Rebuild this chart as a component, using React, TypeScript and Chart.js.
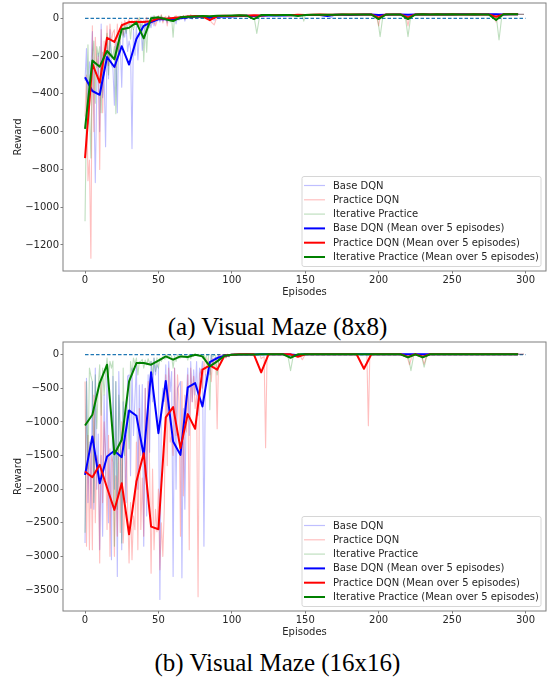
import React, { useEffect, useRef } from 'react';
import { Chart, registerables } from 'chart.js';

Chart.register(...registerables);

const FONT = '"DejaVu Sans", "Liberation Sans", sans-serif';
const TEXT = '#262626';
const FONT_SIZE = 10;

const seriesLabels = [
  'Base DQN',
  'Practice DQN',
  'Iterative Practice',
  'Base DQN (Mean over 5 episodes)',
  'Practice DQN (Mean over 5 episodes)',
  'Iterative Practice (Mean over 5 episodes)',
];
const MEAN_WINDOW = 5;
const optimumLine = [[0, 0], [300, 0]];

const xTicks = [0, 50, 100, 150, 200, 250, 300];
const m8YTicks = [-1200, -1000, -800, -600, -400, -200, 0];
const m16YTicks = [-3500, -3000, -2500, -2000, -1500, -1000, -500, 0];

// ---------- Visual Maze (8x8) ----------
const m8BaseRaw = [
  -330, -160, -560, -230, -280, -70, -420, -870, -380, -185,
  -600, -30, -420, -295, -680, -130, -320, -60, -250, -265,
  -460, -120, -500, -80, -130, -365, -60, -100, -40, -175,
  -120, -160, -690, -60, -195, -40, -220, -90, -30, -170,
  -90, -10, -60, -20, -20, -50, 10, -40, -5, -15,
  5, -20, 10, -15, -5, 0, -25, 10, 5, -15,
  -10, 5, -30, 5, -10, 5, -5, 10, -15, 5,
  10, 0, 15, -5, 5,
];
const m8BaseRawLate = [
  [75, 15], [78, 10], [80, 8], [83, 14], [85, 5], [88, -10], [90, 10], [93, 14], [95, 12],
  [100, 10], [105, 15], [110, 12], [115, 16], [120, 14], [125, 18], [130, 16], [135, 18],
  [140, 15], [145, 18], [150, 18], [155, 17], [160, 20], [165, 12], [168, 5], [170, 18],
  [175, 19], [180, 20], [185, 19], [190, 19], [195, 20], [200, 17], [205, 20], [210, 20],
  [215, 19], [220, 19], [225, 20], [230, 21], [240, 20], [250, 20], [260, 21], [270, 20],
  [280, 21], [290, 21], [299, 21],
];
const m8PracticeRaw = [
  -520, -300, -860, -750, -1270, -40, -600, -100, -260, -200,
  -800, -60, -500, -120, -220, -40, -250, -30, -120, -75,
  -60, -260, -30, -180, -95, -20, -90, -10, -40, -25,
  -5, -45, -10, -30, -10, -30, 0, -40, -10, -20,
  -10, -35, 5, -40, -20, 0, -30, 10, -40, -15,
  15, -10, 20, -25, 0, 10, -40, 15, 0, 0,
  5, -10, 15, 0, 0, 10, 0, 15, -5, 5,
  15, 5, 20, 0, 10,
];
const m8PracticeRawLate = [
  [75, 12], [78, 15], [80, 15], [84, 10], [86, -20], [88, -35], [90, 12], [95, 14],
  [100, 12], [105, 15], [110, 14], [115, 16], [120, 15], [125, 18], [130, 17], [135, 18],
  [140, 16], [145, 19], [150, 18], [160, 20], [170, 19], [180, 20], [190, 20], [197, 20],
  [199, -5], [200, -40], [201, 5], [203, 20], [210, 20], [217, 20], [219, -5], [220, -40],
  [221, 5], [223, 20], [230, 21], [240, 20], [250, 21], [260, 20], [270, 21], [277, 20],
  [279, 0], [280, -20], [281, 10], [283, 20], [290, 21], [299, 21],
];
const m8IterativeRaw = [
  -1075, -480, -140, -490, -740, -200, -120, -450, -150, -200,
  -150, -500, -180, -300, -150, -80, -300, -100, -185, -200,
  -150, -505, -130, -200, -100, -40, -100, -30, -80, -40,
  -20, -110, -30, -60, -30, -10, -40, 5, -50, -20,
  -230, -40, -180, -30, -50, 10, -20, 15, -10, 5,
  10, 0, 15, -5, 5, 0, -15, 10, -20, 0,
  -100, 10, 5, 0, 10, 10, 0, 15, -5, 5,
  15, 5, 10, 0, 10,
];
const m8IterativeRawLate = [
  [75, 12], [80, 14], [85, 10], [90, 15], [95, 14], [100, 15], [105, 16], [110, 15],
  [115, 15], [117, -80], [119, 15], [125, 17], [130, 16], [135, 18], [140, 17], [145, 18],
  [148, 15], [149, -15], [150, 15], [160, 19], [170, 19], [180, 20], [190, 20], [199, 18],
  [201, -97], [203, 18], [210, 20], [218, 18], [220, -97], [222, 18], [230, 20], [240, 20],
  [250, 21], [260, 20], [270, 21], [280, 18], [282, -115], [284, 18], [290, 21], [299, 21],
];
const m8BaseMean = [
  -312, -385, -405, -205, -258, -148, -245, -110, -40, -20,
  -5, -5, -8, 0, 5, 10, 8, 3, 8, 10,
  10, 12, 14, 12, 14, 15, 16, 15, 16, 17,
  18, 17, 18, 12, 19, 19, 18, 19, 20, 20,
  18, 19, 20, 20, 19, 20, 21, 20, 20, 21,
  20, 21, 21, 20, 21, 21, 21, 20, 21, 21,
];
const m8PracticeMean = [
  -740, -240, -340, -103, -125, -37, -20, -20, -20, -15,
  0, -3, 2, 5, 10, 12, 10, -10, 12, 14,
  12, 15, 14, 16, 15, 18, 17, 18, 16, 19,
  18, 19, 20, 19, 19, 20, 20, 20, 20, 20,
  3, 20, 20, 20, 4, 20, 21, 20, 21, 20,
  21, 20, 20, 21, 20, 20, 8, 21, 21, 21,
];
const m8IterativeMean = [
  -585, -224, -256, -173, -217, -58, -50, -23, -106, 0,
  5, -5, -15, 5, 8, 10, 12, 11, 14, 14,
  15, 16, 15, -4, 17, 17, 16, 18, 17, 12,
  18, 19, 19, 19, 19, 20, 20, 20, 20, 20,
  -4, 20, 20, 20, -4, 20, 21, 20, 21, 20,
  21, 20, 20, 21, 20, 20, -9, 21, 21, 21,
];

// ---------- Visual Maze (16x16) ----------
const m16BaseRaw = [
  -2800, -350, -2200, -1300, -2285, -400, -2300, -200, -2000, -1180,
  -2900, -1500, -2700, -600, -1855, -300, -2500, -1400, -3050, -320,
  -2000, -400, -3300, -250, -1200, -2900, -700, -1500, -2200, -320,
  -300, -1800, -200, -1200, -645, -150, -2000, -450, -1500, -445,
  -2850, -500, -2400, -300, -1450, -100, -700, -50, -300, -150,
  -200, -3640, -800, -500, -695, -150, -900, -100, -550, -250,
  -3300, -200, -2000, -500, -455, -400, -3320, -800, -2300, -630,
  -200, -1200, -100, -700, -225, -600, -100, -900, -200, -310,
  -100, -2850, -300, -400, -200, -300, 0, -150, -50, -45,
  -100, 0, -80, -50, -20, 0, -40, 5, -30, -10,
  5, -10, 5, 0, 0,
];
const m16BaseRawLate = [
  [105, 5], [110, 2], [115, 6], [120, 4], [125, 6], [130, 5], [135, 3], [140, 2], [143, -20],
  [145, -15], [147, 5], [150, 6], [160, 5], [170, 6], [180, 6], [190, 6], [200, 6], [210, 6],
  [220, 6], [230, 7], [240, 7], [250, 6], [260, 7], [270, 7], [280, 7], [290, 7], [299, 7],
];
const m16PracticeRaw = [
  -400, -2850, -1200, -2900, -1340, -2900, -600, -2500, -1500, -1610,
  -3100, -400, -2200, -1000, -1490, -2600, -1200, -3000, -1500, -1600,
  -3000, -1800, -2700, -1400, -2645, -1000, -2800, -2300, -1200, -2260,
  -3100, -2200, -3050, -2400, -2605, -1300, -2900, -800, -2600, -1835,
  -2700, -500, -2000, -400, -1725, -3250, -1700, -2900, -2300, -2635,
  -2000, -3200, -2500, -3000, -2285, -300, -1650, -200, -1300, -1215,
  -1500, -200, -1200, -300, -700, -2700, -400, -2100, -600, -1150,
  -300, -2900, -200, -700, -320, -800, -600, -3600, -300, -210,
  -500, -100, -300, -50, -165, -100, -400, -50, -200, -45,
  -1100, 0, -10, -5, 0, 0, -50, 5, -30, 0,
  5, -5, 5, -5, 0,
];
const m16PracticeRawLate = [
  [105, 5], [110, 5], [115, 5], [119, 5], [120, -60], [121, -40], [122, -30], [123, -1385],
  [124, 5], [126, 5], [130, 5], [140, 5], [146, 0], [148, -75], [150, 5], [160, 6], [170, 6],
  [180, 6], [190, 5], [191, 5], [192, -10], [193, -1057], [194, 10], [196, 6], [210, 6],
  [219, 6], [221, -150], [223, 6], [229, 6], [231, -140], [233, 6], [240, 6], [250, 7],
  [260, 7], [270, 7], [280, 7], [290, 7], [299, 8],
];
const m16IterativeRaw = [
  -2650, -400, -1700, -200, -315, -400, -2200, -300, -1100, -470,
  -150, -900, -200, -600, -260, -50, -300, -100, -200, -95,
  -2850, -400, -2300, -600, -1250, -2800, -200, -1500, -1000, -830,
  -1400, -100, -300, -50, -135, -50, -300, -100, -100, -70,
  -200, -80, -150, -60, -130, -100, -300, -50, -250, -45,
  -200, -50, -100, -30, -65, -60, 0, -40, 0, -25,
  -200, -20, -100, 0, -50, -50, 0, -30, -20, -25,
  -80, 0, -60, -10, -25, 10, -10, 5, -5, 0,
  -50, 0, -60, -10, -5, -820, 0, -30, -10, -10,
  -300, -100, -50, -30, -15, 0, -40, 5, -30, -10,
  5, -5, 5, -5, 0,
];
const m16IterativeRawLate = [
  [105, 3], [110, 4], [115, 4], [120, 5], [130, 5], [138, 5], [140, -238], [142, 5],
  [150, 5], [160, 6], [170, 6], [180, 6], [190, 6], [200, 6], [210, 6], [220, 6],
  [222, -238], [224, 6], [229, 6], [231, -184], [233, 6], [240, 6], [250, 7], [260, 7],
  [270, 7], [280, 7], [290, 7], [299, 7],
];
const m16BaseMean = [
  -1787, -1216, -1911, -1514, -1430, -1524, -829, -909, -1500, -260,
  -1167, -390, -1291, -1490, -485, -422, -770, -109, -50, -15,
  0, 3, 5, 4, 6, 5, 6, 5, 3, -8,
  5, 6, 5, 6, 6, 5, 6, 6, 6, 6,
  6, 6, 6, 7, 6, 7, 6, 7, 7, 6,
  7, 7, 7, 7, 7, 7, 7, 7, 7, 7,
];
const m16PracticeMean = [
  -1738, -1822, -1638, -1980, -2309, -1912, -2671, -1887, -1465, -2557,
  -2597, -933, -780, -1390, -884, -1102, -223, -159, -223, -15,
  0, 5, 5, 5, -263, 5, 5, 5, 5, -30,
  5, 6, 6, 6, 6, 6, 6, 6, -209, 6,
  6, 6, 6, 6, -35, 6, -30, 6, 6, 6,
  6, 7, 7, 7, 7, 7, 7, 7, 7, 7,
];
const m16IterativeMean = [
  -1053, -894, -422, -149, -1480, -1266, -397, -124, -124, -149,
  -89, -25, -74, -25, -35, 0, -25, -174, -99, -15,
  0, 3, 4, 4, 5, 5, 5, 5, -45, 5,
  5, 6, 6, 6, 6, 6, 6, 6, 6, 6,
  6, 6, 6, 6, -40, 6, -40, 6, 6, 6,
  7, 7, 7, 7, 7, 7, 7, 7, 7, 7,
];

const rawColors = ['rgba(0,0,255,0.25)', 'rgba(255,0,0,0.25)', 'rgba(0,128,0,0.25)'];
const meanColors = ['#0000ff', '#ff0000', '#008000'];

const fmt = (v: number) => (v < 0 ? '\u2212' + Math.abs(v) : String(v));

const framePlugin = {
  id: 'frameAndLegend',
  afterDatasetsDraw(chart: any) {
    const { ctx, chartArea: a } = chart;
    ctx.save();
    ctx.strokeStyle = '#7f7f7f';
    ctx.lineWidth = 1;
    ctx.strokeRect(a.left, a.top, a.right - a.left, a.bottom - a.top);

    // legend
    const w = 239;
    const h = 90;
    const x0 = a.right - 5 - w;
    const y0 = a.bottom - 4.5 - h;
    ctx.beginPath();
    if (ctx.roundRect) ctx.roundRect(x0, y0, w, h, 2);
    else ctx.rect(x0, y0, w, h);
    ctx.fillStyle = 'rgba(255,255,255,0.8)';
    ctx.fill();
    ctx.strokeStyle = '#d6d6d6';
    ctx.lineWidth = 1;
    ctx.stroke();
    ctx.font = FONT_SIZE + 'px ' + FONT;
    ctx.textBaseline = 'middle';
    ctx.textAlign = 'left';
    for (let i = 0; i < seriesLabels.length; i++) {
      const cy = y0 + 9 + i * 14.3;
      ctx.beginPath();
      ctx.moveTo(x0 + 2, cy);
      ctx.lineTo(x0 + 23, cy);
      ctx.strokeStyle = i < 3 ? rawColors[i] : meanColors[i - 3];
      ctx.lineWidth = i < 3 ? 1.2 : 2;
      ctx.stroke();
      ctx.fillStyle = TEXT;
      ctx.fillText(seriesLabels[i], x0 + 31, cy + 0.5);
    }
    ctx.restore();
  },
};

type PanelProps = {
  rawEarly: number[][];
  rawLate: number[][][];
  means: number[][];
  yTicks: number[];
  yMin: number;
  yMax: number;
  height: number;
  padTop: number;
};

function Panel(props: PanelProps) {
  const ref = useRef<HTMLCanvasElement>(null);
  useEffect(() => {
    const canvas = ref.current;
    if (!canvas) return;
    const datasets: any[] = [];
    datasets.push({
      label: '_optimum',
      data: optimumLine.map(([x, y]) => ({ x, y })),
      borderColor: '#1f77b4',
      borderWidth: 1.2,
      borderDash: [3.5, 2],
      pointRadius: 0,
      order: 10,
    });
    for (let i = 0; i < 3; i++) {
      datasets.push({
        label: seriesLabels[i],
        data: [
          ...props.rawEarly[i].map((y, x) => ({ x, y })),
          ...props.rawLate[i].map(([x, y]) => ({ x, y })),
        ],
        borderColor: rawColors[i],
        borderWidth: 1.1,
        pointRadius: 0,
        borderJoinStyle: 'round',
        order: 9 - i,
      });
    }
    for (let i = 0; i < 3; i++) {
      datasets.push({
        label: seriesLabels[i + 3],
        data: props.means[i].map((y, k) => ({ x: k * MEAN_WINDOW, y })),
        borderColor: meanColors[i],
        borderWidth: 2,
        pointRadius: 0,
        borderJoinStyle: 'round',
        order: 3 - i,
      });
    }
    const tickFont = { family: FONT, size: FONT_SIZE };
    const chart = new Chart(canvas, {
      type: 'line',
      data: { datasets },
      options: {
        animation: false,
        responsive: false,
        devicePixelRatio: 1,
        events: [],
        layout: { padding: { left: 0, right: 5, top: props.padTop, bottom: 0 } },
        plugins: { legend: { display: false }, tooltip: { enabled: false } },
        elements: { line: { tension: 0 } },
        scales: {
          x: {
            type: 'linear',
            min: -15,
            max: 314,
            afterBuildTicks: (s: any) => {
              s.ticks = xTicks.map((v) => ({ value: v }));
            },
            afterFit: (s: any) => {
              s.height = 34;
              s.paddingLeft = 0;
              s.paddingRight = 0;
            },
            ticks: {
              font: tickFont,
              color: TEXT,
              padding: 1,
              maxRotation: 0,
              autoSkip: false,
              callback: (v: any) => fmt(Number(v)),
            },
            grid: {
              display: true,
              drawOnChartArea: false,
              drawTicks: true,
              tickLength: 2.5,
              color: '#7f7f7f',
            },
            border: { display: false },
            title: {
              display: true,
              text: 'Episodes',
              font: tickFont,
              color: TEXT,
              padding: { top: 0, bottom: 7 },
            },
          },
          y: {
            type: 'linear',
            min: props.yMin,
            max: props.yMax,
            afterBuildTicks: (s: any) => {
              s.ticks = props.yTicks.map((v) => ({ value: v }));
            },
            afterFit: (s: any) => {
              s.width = 63;
              s.paddingTop = 0;
              s.paddingBottom = 0;
            },
            ticks: {
              font: tickFont,
              color: TEXT,
              padding: 1.5,
              autoSkip: false,
              callback: (v: any) => fmt(Number(v)),
            },
            grid: {
              display: true,
              drawOnChartArea: false,
              drawTicks: true,
              tickLength: 2.5,
              color: '#7f7f7f',
            },
            border: { display: false },
            title: {
              display: true,
              text: 'Reward',
              font: tickFont,
              color: TEXT,
              padding: { top: 12.3, bottom: 0 },
            },
          },
        },
      } as any,
      plugins: [framePlugin],
    });
    return () => chart.destroy();
  }, []);
  return (
    <canvas
      ref={ref}
      width={551}
      height={props.height}
      style={{ display: 'block', width: 551, height: props.height }}
    />
  );
}

const captionStyle: React.CSSProperties = {
  position: 'absolute',
  left: 2,
  width: 551,
  textAlign: 'center',
  fontFamily: '"Liberation Serif", "Times New Roman", serif',
  fontSize: 25,
  lineHeight: '28px',
  color: '#000',
  whiteSpace: 'nowrap',
};

export default function App() {
  return (
    <div
      style={{
        position: 'absolute',
        left: 0,
        top: 0,
        width: 551,
        height: 679,
        background: '#fff',
        overflow: 'hidden',
      }}
    >
      <div style={{ position: 'absolute', left: 0, top: 0 }}>
        <Panel
          rawEarly={[m8BaseRaw, m8PracticeRaw, m8IterativeRaw]}
          rawLate={[m8BaseRawLate, m8PracticeRawLate, m8IterativeRawLate]}
          means={[m8BaseMean, m8PracticeMean, m8IterativeMean]}
          yTicks={m8YTicks}
          yMin={-1338}
          yMax={81}
          height={305}
          padTop={3}
        />
      </div>
      <div style={{ ...captionStyle, top: 313 }}>(a) Visual Maze (8x8)</div>
      <div style={{ position: 'absolute', left: 0, top: 335 }}>
        <Panel
          rawEarly={[m16BaseRaw, m16PracticeRaw, m16IterativeRaw]}
          rawLate={[m16BaseRawLate, m16PracticeRawLate, m16IterativeRawLate]}
          means={[m16BaseMean, m16PracticeMean, m16IterativeMean]}
          yTicks={m16YTicks}
          yMin={-3813}
          yMax={189}
          height={310}
          padTop={7}
        />
      </div>
      <div style={{ ...captionStyle, top: 649 }}>(b) Visual Maze (16x16)</div>
    </div>
  );
}
